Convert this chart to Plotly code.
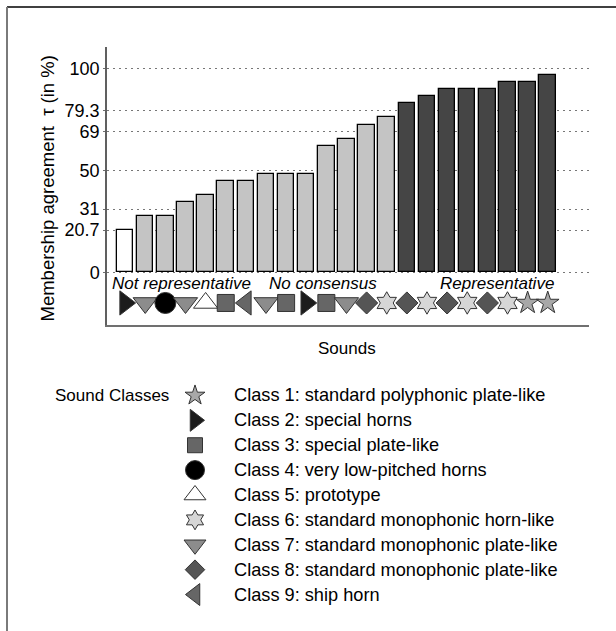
import plotly.graph_objects as go

# Membership agreement per sound (in %), sorted ascending
tau = [20.7, 27.6, 27.6, 34.5, 37.9, 44.8, 44.8, 48.3, 48.3, 48.3, 62.1,
       65.5, 72.4, 75.9, 82.8, 86.2, 89.7, 89.7, 89.7, 93.1, 93.1, 96.6]
# Sound class of each sound (1..9)
sound_class = [2, 7, 4, 7, 5, 3, 9, 7, 3, 2, 3, 7, 8, 6, 8, 6, 8, 6, 8, 6, 1, 1]
# Decision thresholds shown as y ticks
y_ticks = [0, 20.7, 31, 50, 69, 79.3, 100]
low_cut = 20.7
high_cut = 79.3

class_names = [
    "Class 1: standard polyphonic plate-like",
    "Class 2: special horns",
    "Class 3: special plate-like",
    "Class 4: very low-pitched horns",
    "Class 5: prototype",
    "Class 6: standard monophonic horn-like",
    "Class 7: standard monophonic plate-like",
    "Class 8: standard monophonic plate-like",
    "Class 9: ship horn",
]
group_labels = ["Not representative", "No consensus", "Representative"]

# Marker style per class
class_symbol = {1: "star", 2: "triangle-right", 3: "square", 4: "circle",
                5: "triangle-up", 6: "hexagram", 7: "triangle-down",
                8: "diamond", 9: "triangle-left"}
class_color = {1: "#a8a8a8", 2: "#1c1c1c", 3: "#666666", 4: "#000000",
               5: "#ffffff", 6: "#d6d6d6", 7: "#8c8c8c", 8: "#555555",
               9: "#666666"}
class_size = {1: 17, 2: 21, 3: 17, 4: 21, 5: 21, 6: 17, 7: 21, 8: 17, 9: 21}

FONT = "Liberation Sans, Arial, Helvetica, sans-serif"
W, H = 616, 631
# plot area in pixels
PL, PR, PT, PB = 107, 589, 47, 325

n = len(tau)
xs = list(range(1, n + 1))


def bar_color(v):
    if v <= low_cut:
        return "#ffffff"
    if v < high_cut:
        return "#c4c4c4"
    return "#454545"


fig = go.Figure()

fig.add_trace(go.Bar(
    x=xs, y=tau, width=0.82,
    marker=dict(color=[bar_color(v) for v in tau],
                line=dict(color="#000000", width=1.3)),
    showlegend=False, hoverinfo="skip",
))

marker_y = -15
fig.add_trace(go.Scatter(
    x=xs, y=[marker_y] * n, mode="markers",
    marker=dict(symbol=[class_symbol[c] for c in sound_class],
                color=[class_color[c] for c in sound_class],
                size=[class_size[c] for c in sound_class],
                opacity=1,
                line=dict(color="#333333", width=1)),
    showlegend=False, hoverinfo="skip", cliponaxis=False,
))

# Legend block drawn on its own axes (x in pixels, y in row index)
classes = list(range(1, 10))
fig.add_trace(go.Scatter(
    x=[195] * 9, y=[c - 1 for c in classes], mode="markers",
    xaxis="x2", yaxis="y2",
    marker=dict(symbol=[class_symbol[c] for c in classes],
                color=[class_color[c] for c in classes],
                size=[class_size[c] - 2 for c in classes],
                opacity=1,
                line=dict(color="#333333", width=1)),
    showlegend=False, hoverinfo="skip", cliponaxis=False,
))

annotations = []
for i, name in enumerate(class_names):
    annotations.append(dict(x=232, y=i, xref="x2", yref="y2", text=name,
                            showarrow=False, xanchor="left", yanchor="middle",
                            font=dict(family=FONT, size=18.2, color="#000")))
annotations.append(dict(x=53, y=0, xref="x2", yref="y2", text="Sound Classes",
                        showarrow=False, xanchor="left", yanchor="middle",
                        font=dict(family=FONT, size=17, color="#000")))

# Group labels under the bars
for label, xc in zip(group_labels, [3.81, 10.81, 19.5]):
    annotations.append(dict(x=xc, y=-5.3, xref="x", yref="y",
                            text="<i>" + label + "</i>", showarrow=False,
                            xanchor="center", yanchor="middle",
                            font=dict(family=FONT, size=17, color="#000")))

# Axis titles
annotations.append(dict(x=47 / W, y=1 - 188.5 / H, xref="paper", yref="paper",
                        text="Membership agreement  \u03c4 (in %)", textangle=-90,
                        showarrow=False, xanchor="center", yanchor="middle",
                        font=dict(family=FONT, size=18.5, color="#000")))
annotations.append(dict(x=347 / W, y=1 - 348 / H, xref="paper", yref="paper",
                        text="Sounds", showarrow=False,
                        xanchor="center", yanchor="middle",
                        font=dict(family=FONT, size=17, color="#000")))

# Outer frame (top and left edges)
shapes = [
    dict(type="line", xref="paper", yref="paper", x0=7 / W, x1=1.0,
         y0=1 - 7 / H, y1=1 - 7 / H, line=dict(color="#000000", width=1.5)),
    dict(type="line", xref="paper", yref="paper", x0=7 / W, x1=7 / W,
         y0=1 - 7 / H, y1=0, line=dict(color="#7a7a7a", width=2)),
]

fig.update_layout(
    width=W, height=H,
    margin=dict(l=0, r=0, t=0, b=0),
    paper_bgcolor="white", plot_bgcolor="white",
    font=dict(family=FONT, size=17, color="#000"),
    bargap=0,
    xaxis=dict(domain=[PL / W, PR / W], range=[0.1, 24.05],
               showgrid=False, zeroline=False, showticklabels=False,
               ticks="", showline=True, linecolor="#707070", linewidth=2,
               mirror=False, fixedrange=True),
    yaxis=dict(domain=[1 - PB / H, 1 - PT / H], range=[-25.8, 110.4],
               tickvals=y_ticks, ticktext=[f"{v:g}" for v in y_ticks],
               tickfont=dict(family=FONT, size=18, color="#000"),
               ticks="outside", ticklen=2, tickcolor="#707070",
               showgrid=True, gridcolor="#777777", gridwidth=1,
               griddash="2px,4px", zeroline=False,
               showline=True, linecolor="#606060", linewidth=1.5,
               fixedrange=True),
    xaxis2=dict(domain=[0, 1], range=[0, W], visible=False,
                anchor="y2", fixedrange=True),
    yaxis2=dict(domain=[1 - 607 / H, 1 - 383 / H], range=[8.5, -0.5],
                visible=False, anchor="x2", fixedrange=True),
    annotations=annotations,
    shapes=shapes,
    showlegend=False,
)

fig.write_html("out.html")
